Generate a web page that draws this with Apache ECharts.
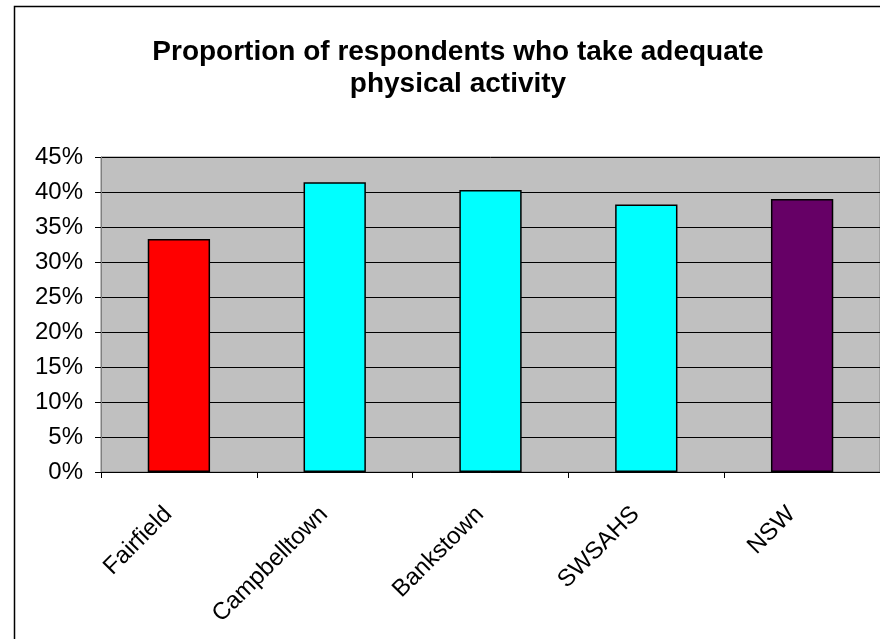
<!DOCTYPE html>
<html>
<head>
<meta charset="utf-8">
<script src="https://cdn.jsdelivr.net/npm/echarts@6/dist/echarts.min.js"></script>
<style>
  html, body { margin: 0; padding: 0; background: #fff; }
  #chart { width: 880px; height: 639px; }
</style>
</head>
<body>
<div id="chart"></div>
<script>
// Areas surveyed
const categories = ['Fairfield', 'Campbelltown', 'Bankstown', 'SWSAHS', 'NSW'];
// Percentage of respondents with adequate physical activity
const values = [33.3, 41.4, 40.3, 38.2, 39.0];
// Fill colour per bar
const barColors = ['#FF0000', '#00FFFF', '#00FFFF', '#00FFFF', '#660066'];
// Value axis settings
const yMin = 0, yMax = 45, yStep = 5;

const FONT = 'Liberation Sans, Arial, sans-serif';
const chart = echarts.init(document.getElementById('chart'), null, { renderer: 'canvas' });

chart.setOption({
  backgroundColor: '#ffffff',
  animation: false,
  graphic: [{
    type: 'rect',
    shape: { x: 14.5, y: 6.5, width: 900, height: 700 },
    style: { fill: 'none', stroke: '#000', lineWidth: 1.5 },
    z: -10
  }],
  title: {
    text: 'Proportion of respondents who take adequate\nphysical activity',
    left: 458,
    top: 36,
    padding: 0,
    textAlign: 'center',
    textStyle: {
      fontFamily: FONT,
      fontWeight: 'bold',
      fontSize: 28,
      lineHeight: 32,
      color: '#000'
    }
  },
  grid: {
    left: 101, top: 157, right: -5, bottom: 167,
    show: true,
    backgroundColor: '#C0C0C0',
    borderColor: '#808080',
    borderWidth: 1
  },
  xAxis: {
    type: 'category',
    data: categories,
    axisLine: { show: true, lineStyle: { color: '#000', width: 1 } },
    axisTick: { show: true, alignWithLabel: false, length: 6, lineStyle: { color: '#000' } },
    axisLabel: {
      interval: 0,
      rotate: 45,
      margin: 28,
      padding: [0, 15, 0, 0],
      fontFamily: FONT,
      fontSize: 24,
      color: '#000'
    },
    splitLine: { show: false }
  },
  yAxis: {
    type: 'value',
    min: yMin, max: yMax, interval: yStep,
    axisLine: { show: true, lineStyle: { color: '#808080', width: 1 } },
    axisTick: { show: true, length: 6, lineStyle: { color: '#000' } },
    axisLabel: {
      formatter: '{value}%',
      margin: 18,
      fontFamily: FONT,
      fontSize: 24,
      color: '#000'
    },
    splitLine: { show: true, lineStyle: { color: '#000', width: 1 } }
  },
  series: [{
    type: 'bar',
    barWidth: '40%',
    data: values.map((v, i) => ({
      value: v,
      itemStyle: { color: barColors[i] }
    })),
    itemStyle: { borderColor: '#000', borderWidth: 1.5 }
  }]
});
</script>
</body>
</html>
